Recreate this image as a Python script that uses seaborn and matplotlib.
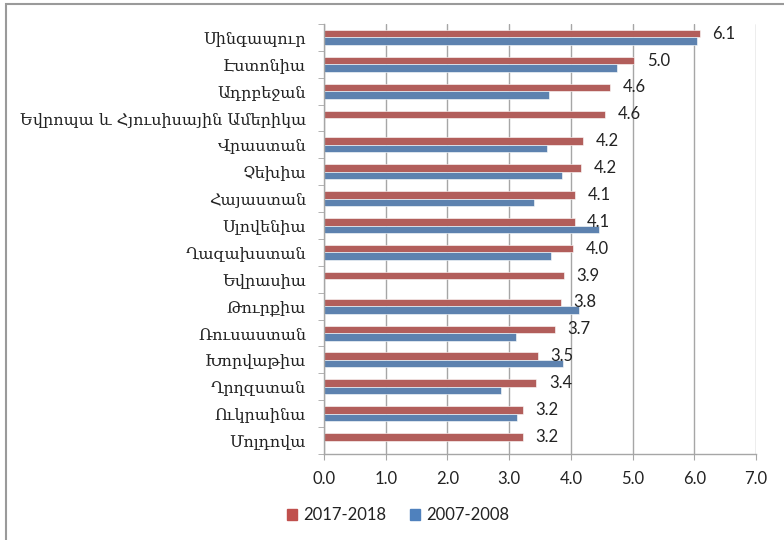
import pandas as pd
import matplotlib.pyplot as plt
import seaborn as sns
from matplotlib.patches import Rectangle
from matplotlib.ticker import FixedLocator

#---------- data ----------
countries = ["Սինգապուր", "Էստոնիա", "Ադրբեջան", "Եվրոպա և Հյուսիսային Ամերիկա",
             "Վրաստան", "Չեխիա", "Հայաստան", "Սլովենիա", "Ղազախստան", "Եվրասիա",
             "Թուրքիա", "Ռուսաստան", "Խորվաթիա", "Ղրղզստան", "Ուկրաինա", "Մոլդովա"]
val_2017 = [6.09, 5.03, 4.64, 4.56, 4.20, 4.17, 4.07, 4.06, 4.04, 3.89,
            3.84, 3.74, 3.46, 3.44, 3.22, 3.22]
val_2007 = [6.04, 4.74, 3.64, None, 3.62, 3.85, 3.40, 4.45, 3.67, None,
            4.13, 3.11, 3.87, 2.86, 3.12, None]
periods = ["2017-2018", "2007-2008"]
colors = ["#C0504D", "#4F81BD"]

rows = []
for c, a, b in zip(countries, val_2017, val_2007):
    rows.append({"country": c, "period": periods[0], "value": a})
    if b is not None:
        rows.append({"country": c, "period": periods[1], "value": b})
df = pd.DataFrame(rows)

#---------- plot ----------
sns.set_style("white")
plt.rcParams["font.family"] = ["Lato", "DejaVu Sans"]

fig = plt.figure(figsize=(7.84, 5.4), dpi=100)
ax = fig.add_axes([0.4133, 0.1593, 0.551, 0.7963])

sns.barplot(data=df, y="country", x="value", hue="period", order=countries,
            hue_order=periods, palette=colors, orient="y", width=0.56, gap=0,
            edgecolor="white", linewidth=0.4, ax=ax, legend=False)

# value labels only on the 2017-2018 bars
ax.bar_label(ax.containers[0], fmt="%.1f", padding=9, fontsize=12, color="#222222")

ax.set_xlim(0, 7)
ax.set_ylim(15.5, -0.5)
ax.set_xticks(range(8))
ax.set_xticklabels([f"{v:.1f}" for v in range(8)], fontsize=12, color="#222222")
ax.set_yticks(range(len(countries)))
ax.set_yticklabels(countries, fontfamily="DejaVu Serif", fontsize=11.5, color="#222222")
ax.grid(axis="x", color="#A6A6A6", linewidth=1)
ax.set_axisbelow(True)
ax.set_xlabel("")
ax.set_ylabel("")

for s in ["top", "right"]:
    ax.spines[s].set_visible(False)
for s in ["left", "bottom"]:
    ax.spines[s].set_color("#A6A6A6")
    ax.spines[s].set_linewidth(1)

ax.tick_params(axis="x", direction="out", length=4, color="#A6A6A6", pad=8, bottom=True)
ax.tick_params(axis="y", which="major", length=0, pad=13)
ax.yaxis.set_minor_locator(FixedLocator([i - 0.5 for i in range(17)]))
ax.tick_params(axis="y", which="minor", direction="out", length=4, color="#A6A6A6", left=True)

handles = [Rectangle((0, 0), 1, 1, color=c) for c in colors]
fig.legend(handles, periods, loc="center", bbox_to_anchor=(0.508, 0.046), ncol=2,
           frameon=False, fontsize=12, handlelength=0.6, handleheight=0.6,
           handletextpad=0.4, columnspacing=1.4, labelcolor="#222222")

# outer chart border
fig.add_artist(Rectangle((6 / 784, -0.1), 2, 1.1 - 4 / 540, transform=fig.transFigure,
                         fill=False, edgecolor="#9A9A9A", linewidth=1.5))

fig.savefig("out.png", dpi=100)
